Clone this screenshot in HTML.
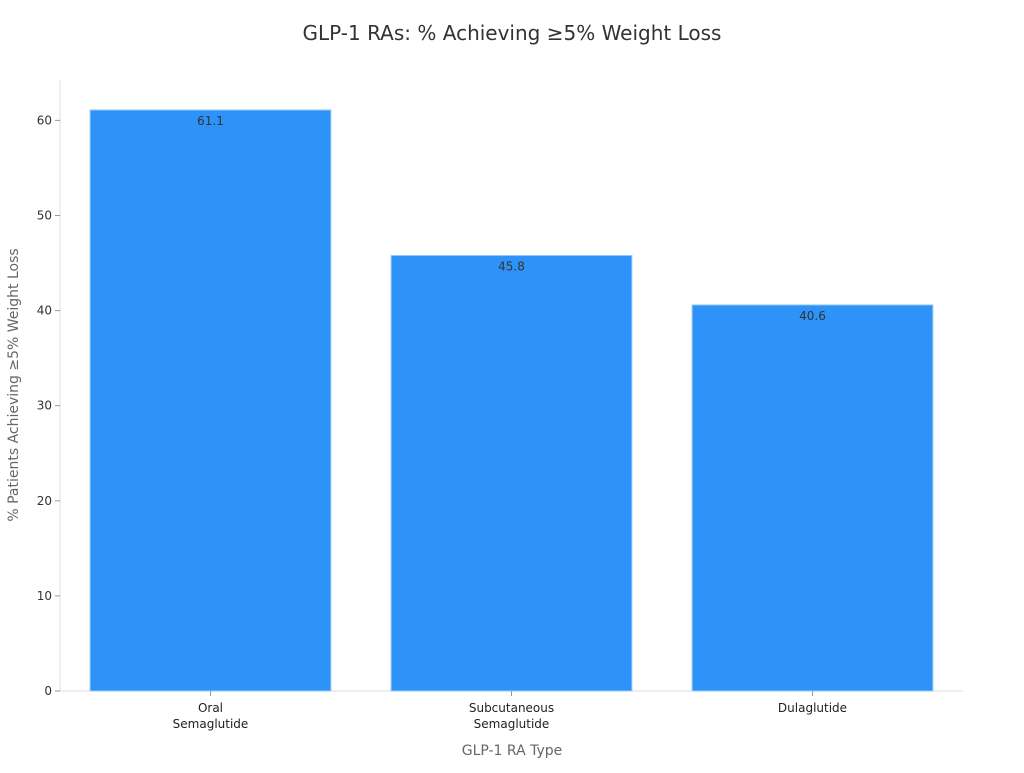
<!DOCTYPE html>
<html><head><meta charset="utf-8"><style>
body{margin:0;background:#fff;font-family:"Liberation Sans","DejaVu Sans",sans-serif;}
svg text{font-family:"DejaVu Sans","Liberation Sans",sans-serif;}
</style></head><body>
<svg id="chart" width="1024" height="768" xmlns="http://www.w3.org/2000/svg">
<text x="512" y="40" text-anchor="middle" font-size="20" fill="#333">GLP-1 RAs: % Achieving ≥5% Weight Loss</text>
<g id="plot"></g>
<text x="512" y="755" text-anchor="middle" font-size="14" fill="#666">GLP-1 RA Type</text>
<text transform="translate(18,385) rotate(-90)" text-anchor="middle" font-size="14" fill="#666">% Patients Achieving ≥5% Weight Loss</text>
</svg>
<script>
const categories = [["Oral","Semaglutide"],["Subcutaneous","Semaglutide"],["Dulaglutide"]];
const values = [61.1, 45.8, 40.6];
const yTicks = [0,10,20,30,40,50,60];
const NS="http://www.w3.org/2000/svg";
const g=document.getElementById('plot');
const L=60,R=963,T=80,B=691,yMax=64.25;
const y=v=>B-(v/yMax)*(B-T);
const step=(R-L)/categories.length;
const x=i=>L+step*i+step/2;
function mk(tag,attrs){const e=document.createElementNS(NS,tag);for(const k in attrs)e.setAttribute(k,attrs[k]);g.appendChild(e);return e;}
let e=mk('line',{x1:L,x2:L,y1:T,y2:B,stroke:'#ddd'});


e=mk('line',{x1:L,x2:R,y1:B,y2:B,stroke:'#ddd'});


yTicks.forEach(t=>{
  const tl=mk('line',{x1:L-5,x2:L,y1:y(t),y2:y(t),stroke:'#999'});
  
  
  const tx=mk('text',{x:L-8,y:y(t)+4,'text-anchor':'end','font-size':12,fill:'#333'});
  tx.textContent=t;
  
  
});
const bw=step*0.8;
values.forEach((v,i)=>{
  const r=mk('rect',{x:x(i)-bw/2,y:y(v),width:bw,height:B-y(v),fill:'#2e93f8',stroke:'#9ccaf8','stroke-width':1});
  
  
  const lb=mk('text',{x:x(i),y:y(v)+15,'text-anchor':'middle','font-size':12,fill:'#333'});
  lb.textContent=v.toFixed(1);
  
  
  const tk=mk('line',{x1:x(i),x2:x(i),y1:B,y2:B+5,stroke:'#999'});
  
  
  categories[i].forEach((line,j)=>{
    const c=mk('text',{x:x(i),y:B+21+j*16,'text-anchor':'middle','font-size':12,fill:'#222'});
    c.textContent=line;
    
    
  });
});
</script>
</body></html>
